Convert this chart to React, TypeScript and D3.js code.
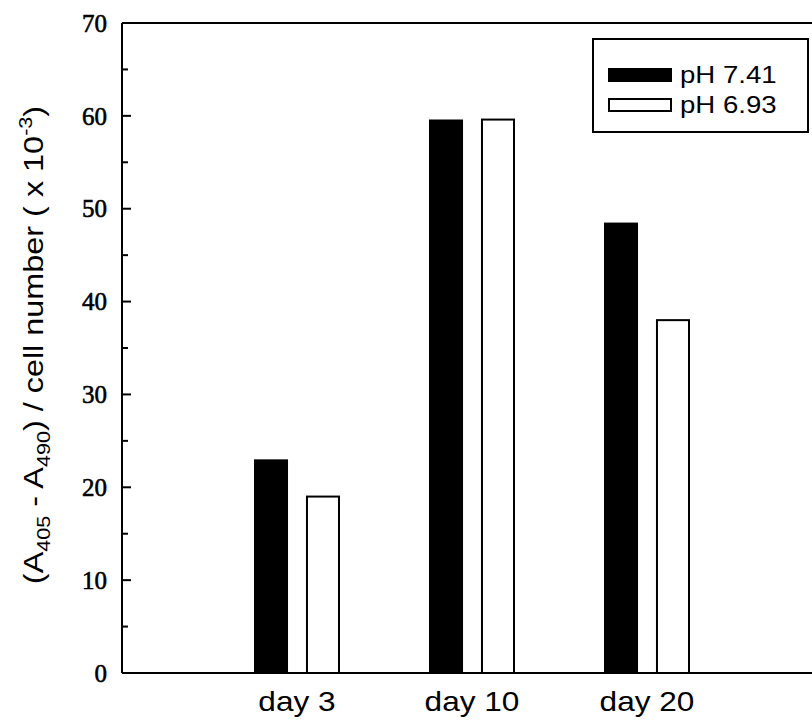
import React, { useEffect, useRef } from 'react';
import * as d3 from 'd3';

// values
const days = ['day 3', 'day 10', 'day 20'];
const ph741 = [22.9, 59.5, 48.4];
const ph693 = [19.0, 59.6, 38.0];
const seriesNames = ['pH 7.41', 'pH 6.93'];
const yTicks = [0, 10, 20, 30, 40, 50, 60, 70];

const sans = '"Liberation Sans", Arial, sans-serif';
const serif = '"Liberation Serif", "Times New Roman", serif';

function App() {
  const svgRef = useRef<SVGSVGElement | null>(null);

  useEffect(() => {
    const width = 812;
    const height = 725;
    const svg = d3.select(svgRef.current);
    svg.selectAll('*').remove();
    svg.attr('width', width).attr('height', height);

    const left = 122;
    const top = 23;
    const bottom = 673;

    const x = d3.scaleLinear().domain([0, 4]).range([left, left + 700]);
    const y = d3.scaleLinear().domain([0, 70]).range([bottom, top]);

    const g = svg.append('g');

    // frame: left axis, top line, bottom line (right side is cut off)
    g.append('line')
      .attr('x1', left).attr('x2', left)
      .attr('y1', y(70)).attr('y2', y(0))
      .attr('stroke', 'black').attr('stroke-width', 2);
    g.append('line')
      .attr('x1', left).attr('x2', width)
      .attr('y1', y(70)).attr('y2', y(70))
      .attr('stroke', 'black').attr('stroke-width', 2);
    g.append('line')
      .attr('x1', left).attr('x2', width)
      .attr('y1', y(0)).attr('y2', y(0))
      .attr('stroke', 'black').attr('stroke-width', 2);

    // y ticks, pointing inward
    const minor = d3.range(5, 70, 10);
    g.selectAll('.major')
      .data(yTicks)
      .enter()
      .append('line')
      .attr('x1', left).attr('x2', left + 9)
      .attr('y1', d => y(d)).attr('y2', d => y(d))
      .attr('stroke', 'black').attr('stroke-width', 2);
    g.selectAll('.minor')
      .data(minor)
      .enter()
      .append('line')
      .attr('x1', left).attr('x2', left + 6)
      .attr('y1', d => y(d)).attr('y2', d => y(d))
      .attr('stroke', 'black').attr('stroke-width', 2);

    g.selectAll('.ylab')
      .data(yTicks)
      .enter()
      .append('text')
      .attr('x', 107)
      .attr('y', d => y(d))
      .attr('dy', '0.35em')
      .attr('text-anchor', 'end')
      .attr('font-family', serif)
      .attr('font-size', 25)
      .attr('stroke', 'black')
      .attr('stroke-width', 0.6)
      .text(d => d);

    // bars
    const bw = 0.183;
    const hg = 0.057;
    days.forEach((day, i) => {
      const c = i + 1;
      g.append('rect')
        .attr('x', x(c - hg - bw))
        .attr('width', x(c - hg) - x(c - hg - bw))
        .attr('y', y(ph741[i]))
        .attr('height', y(0) - y(ph741[i]))
        .attr('fill', 'black')
        .attr('stroke', 'black').attr('stroke-width', 2);
      g.append('rect')
        .attr('x', x(c + hg))
        .attr('width', x(c + hg + bw) - x(c + hg))
        .attr('y', y(ph693[i]))
        .attr('height', y(0) - y(ph693[i]))
        .attr('fill', 'white')
        .attr('stroke', 'black').attr('stroke-width', 2);
      g.append('text')
        .attr('transform', `translate(${x(c)},711) scale(1.17,1)`)
        .attr('text-anchor', 'middle')
        .attr('font-family', sans)
        .attr('font-size', 27)
        .text(day);
    });

    // y axis title (wide sans, as in the scan)
    const title = g.append('text')
      .attr('transform', `translate(43,345) rotate(-90) scale(1.2,1)`)
      .attr('text-anchor', 'middle')
      .attr('font-family', sans)
      .attr('font-size', 27);
    title.append('tspan').text('(A');
    title.append('tspan').attr('font-size', 18).attr('dy', 7).text('405');
    title.append('tspan').attr('dy', -7).text(' - A');
    title.append('tspan').attr('font-size', 18).attr('dy', 7).text('490');
    title.append('tspan').attr('dy', -7).text(') / cell number ( x 10');
    title.append('tspan').attr('font-size', 18).attr('dy', -11).text('-3');
    title.append('tspan').attr('dy', 11).text(')');

    // legend
    const lg = g.append('g');
    lg.append('rect')
      .attr('x', 593).attr('y', 39)
      .attr('width', 215).attr('height', 93)
      .attr('fill', 'white')
      .attr('stroke', 'black').attr('stroke-width', 2);
    seriesNames.forEach((name, i) => {
      lg.append('rect')
        .attr('x', 609).attr('y', 69 + i * 30)
        .attr('width', 62).attr('height', 12)
        .attr('fill', i === 0 ? 'black' : 'white')
        .attr('stroke', 'black').attr('stroke-width', 2);
      lg.append('text')
        .attr('transform', `translate(680,${75 + i * 30}) scale(1.2,1)`)
        .attr('dy', '0.35em')
        .attr('font-family', sans)
        .attr('font-size', 23)
        .text(name);
    });
  }, []);

  return (
    <div style={{ position: 'fixed', left: 0, top: 0, background: 'white' }}>
      <svg ref={svgRef} style={{ display: 'block' }}></svg>
    </div>
  );
}

export default App;
